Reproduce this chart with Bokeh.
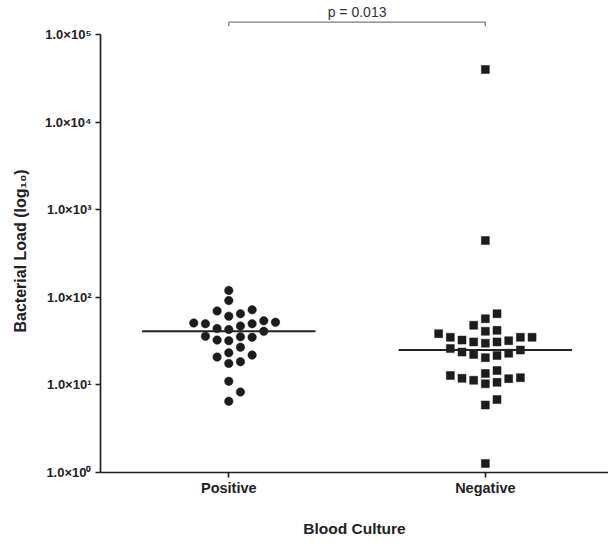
import numpy as np
from bokeh.plotting import figure
from bokeh.models import FixedTicker, Whisker, Label, ColumnDataSource, Title
from bokeh.embed import file_html
from bokeh.resources import INLINE

# ---------------- data ----------------
categories = ["Positive", "Negative"]
positive = [120, 92, 72, 65, 61, 70, 54, 51, 50, 44, 41, 43, 47, 50, 52,
            36, 35, 32, 27, 32.5, 35.5, 23.3, 20.8, 17.6, 18.4, 21.9, 11, 8.3, 6.5]
negative = [40000, 445, 65, 57, 48, 41, 42, 35, 35, 32, 31, 30, 31, 32.5, 35,
            38.5, 26, 23.7, 22.3, 20.5, 21.7, 23, 25, 14.6, 12.8, 11.9, 11.3,
            10.3, 10.7, 11.8, 12.1, 13.5, 6.8, 5.9, 1.27]
y_ticks = [1, 10, 100, 1000, 10000, 100000]
y_tick_labels = ["1.0×10⁰", "1.0×10¹", "1.0×10²", "1.0×10³", "1.0×10⁴", "1.0×10⁵"]
p_text = "p = 0.013"
x_title = "Blood Culture"
y_title = "Bacterial Load (log₁₀)"

# ---------------- layout ----------------
W, H = 608, 548
BL, BT, BB, BR = 99, 0, 76, 0
FW, FH = W - BL - BR, H - BT - BB
X0, X1 = 0.5, 2.48
Y_TOP_EXP = 5.39          # room above 1e5 for the significance bracket
Y0, Y1 = 1, 10 ** Y_TOP_EXP
px_per_unit = FW / (X1 - X0)
px_per_decade = FH / Y_TOP_EXP
SLOT_PX = 11.7
MIN_DY = 10.0
HALF_MEDIAN = 0.338

FONT = "Liberation Sans"
INK = "#1c1c1c"


def swarm_offsets(vals):
    vals = np.asarray(vals, dtype=float)
    ys = np.log10(vals) * px_per_decade
    order = np.argsort(vals)
    placed = {}
    slots = np.zeros(len(vals))
    cand = [0]
    for k in range(1, 12):
        cand += [k, -k]
    for i in order:
        for k in cand:
            if all(abs(ys[i] - yy) >= MIN_DY for yy in placed.get(k, [])):
                placed.setdefault(k, []).append(ys[i])
                slots[i] = k
                break
    return slots * SLOT_PX / px_per_unit


p = figure(width=W, height=H, x_range=(X0, X1), y_range=(Y0, Y1),
           y_axis_type="log", output_backend="svg", toolbar_location=None,
           min_border_left=BL, min_border_top=BT, min_border_bottom=BB,
           min_border_right=BR)
p.outline_line_color = None
p.xgrid.grid_line_color = None
p.ygrid.grid_line_color = None
p.background_fill_color = "white"
p.border_fill_color = "white"

groups = [positive, negative]
markers = ["circle", "square"]
for ci, (vals, mk) in enumerate(zip(groups, markers)):
    xc = ci + 1
    xs = xc + swarm_offsets(vals)
    src = ColumnDataSource(dict(x=xs, y=vals))
    p.scatter("x", "y", source=src, marker=mk, size=8.5 if mk == "circle" else 8,
              fill_color=INK, line_color=INK, line_width=0.5)
    med = float(np.median(vals))
    p.segment(x0=[xc - HALF_MEDIAN], x1=[xc + HALF_MEDIAN], y0=[med], y1=[med],
              line_color="#222222", line_width=2)

# axes
xa = p.xaxis[0]
xa.ticker = FixedTicker(ticks=[1, 2])
xa.major_label_overrides = {i + 1: c for i, c in enumerate(categories)}
xa.axis_label = x_title
ya = p.yaxis[0]
ya.ticker = FixedTicker(ticks=y_ticks, minor_ticks=[])
ya.major_label_overrides = {t: l for t, l in zip(y_ticks, y_tick_labels)}
ya.bounds = (y_ticks[0], y_ticks[-1])

for ax in (xa, ya):
    ax.axis_line_color = "#222222"
    ax.axis_line_width = 1.7
    ax.major_tick_line_color = "#222222"
    ax.major_tick_line_width = 1.7
    ax.major_tick_out = 5
    ax.major_tick_in = 0
    ax.minor_tick_out = 0
    ax.minor_tick_in = 0
    ax.major_label_text_font = FONT
    ax.major_label_text_font_style = "bold"
    ax.major_label_text_color = "#222222"
    ax.axis_label_text_font = FONT
    ax.axis_label_text_font_style = "bold"
    ax.axis_label_text_color = "#222222"

xa.major_label_text_font_size = "14.5px"
xa.major_label_standoff = 2
xa.axis_label_text_font_size = "15.5px"
xa.axis_label_standoff = 21
ya.major_label_text_font_size = "13px"
ya.major_label_standoff = 4

# y-axis title, centred on the bounded axis (1e0..1e5) rather than the frame
ytitle = Title(text=y_title, align="left", offset=140, standoff=22,
               vertical_align="top",
               text_font=FONT, text_font_style="bold", text_font_size="16px",
               text_color="#222222")
p.add_layout(ytitle, "left")

# significance bracket (inside the frame, above the bounded y axis)
yb = 10 ** 5.143
yt = 10 ** 5.097
p.add_layout(Whisker(base=yb, lower=1, upper=2, dimension="width",
                     line_color="#7a7a7a", line_width=1.3,
                     lower_head=None, upper_head=None))
for xc in (1, 2):
    p.add_layout(Whisker(base=xc, lower=yt, upper=yb, dimension="height",
                         line_color="#7a7a7a", line_width=1.3,
                         lower_head=None, upper_head=None))
p.add_layout(Label(x=1.5, y=10 ** 5.165, text=p_text, text_align="center",
                   text_baseline="bottom", text_font=FONT, text_font_size="14px",
                   text_color="#333333"))

open("out.html", "w").write(file_html(p, INLINE))
